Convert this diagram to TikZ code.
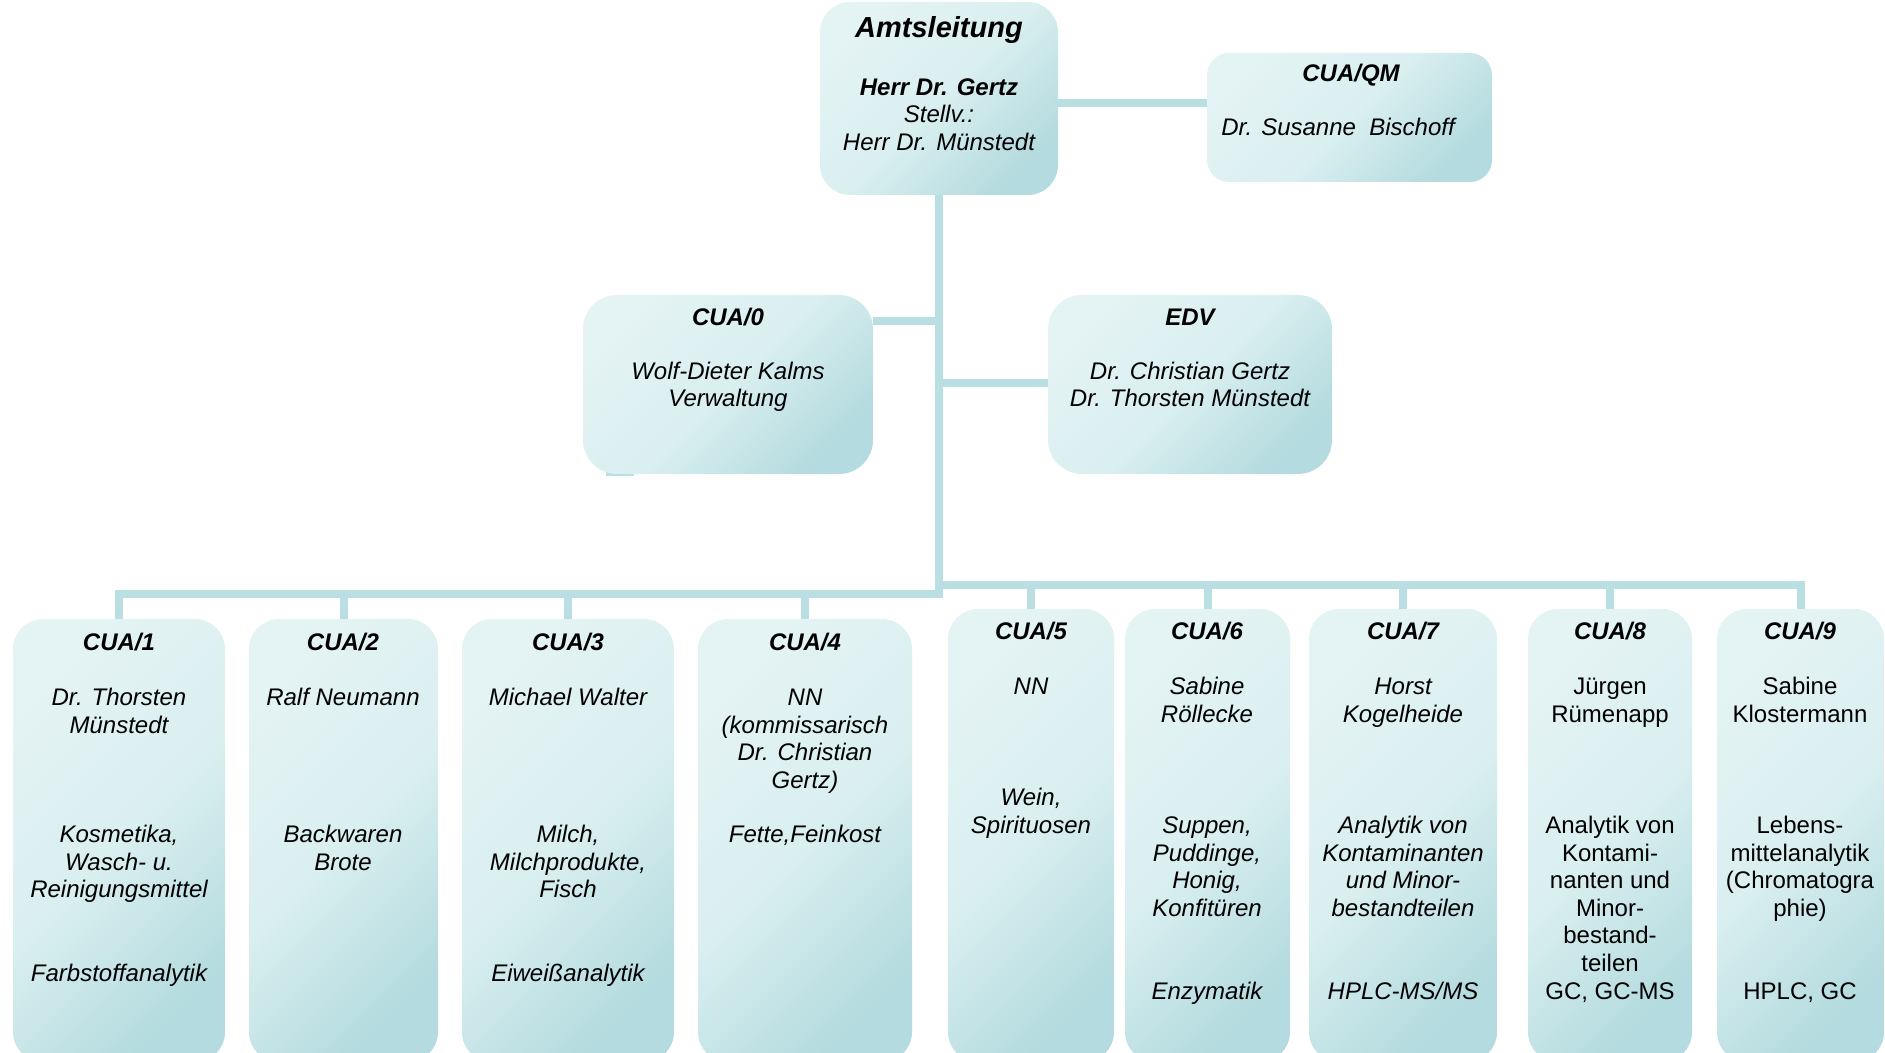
\documentclass[tikz,border=0pt]{standalone}
\usepackage{fontspec}
\setmainfont{Liberation Sans}
\usetikzlibrary{fit,backgrounds}
\definecolor{boxlight}{HTML}{E4F3F4}
\definecolor{boxmid}{HTML}{DAEFF0}
\definecolor{boxdark}{HTML}{B4DBDF}
\definecolor{linkcol}{HTML}{BADFE2}
% strut that fixes the first baseline 11pt below the top of a label
\newcommand\firstline{\rule{0pt}{11pt}}
\begin{document}
\begin{tikzpicture}[x=0.5pt, y=-0.5pt,
  unit/.style={top color=boxlight, bottom color=boxdark, middle color=boxmid,
    shading angle=45, inner sep=0pt, outer sep=0pt, rounded corners=15pt},
  link/.style={draw=linkcol, line width=4pt},
  txt/.style={inner sep=0pt, anchor=north, align=center,
    font=\itshape\fontsize{12pt}{13.8pt}\selectfont},
  txtup/.style={txt, font=\upshape\fontsize{12pt}{13.8pt}\selectfont},
  head/.style={txt, font=\bfseries\itshape\fontsize{12pt}{13.8pt}\selectfont},
]
\useasboundingbox (0,0) rectangle (1885,1053);

% ---- boxes ----
\node[unit, fit={(820,2) (1058,195)}] (amt) {};
\node[unit, rounded corners=11pt, fit={(1207,53) (1492,182)}] (qm) {};
\node[unit, rounded corners=17pt, fit={(583,295) (873,474)}] (c0) {};
\node[unit, rounded corners=17pt, fit={(1048,295) (1332,474)}] (edv) {};
\node[unit, fit={(13,619) (225,1062)}] (c1) {};
\node[unit, fit={(249,619) (438,1062)}] (c2) {};
\node[unit, fit={(462,619) (674,1062)}] (c3) {};
\node[unit, fit={(698,619) (912,1062)}] (c4) {};
\node[unit, fit={(948,609) (1114,1062)}] (c5) {};
\node[unit, fit={(1125,609) (1290,1062)}] (c6) {};
\node[unit, fit={(1309,609) (1497,1062)}] (c7) {};
\node[unit, fit={(1528,609) (1692,1062)}] (c8) {};
\node[unit, fit={(1717,609) (1884,1062)}] (c9) {};

% ---- connectors ----
\coordinate (yqm) at (0,103);
\coordinate (t0) at (939,321);
\coordinate (t1) at (939,383);
\coordinate (trunkfoot) at (939,598);
\coordinate (jl) at (943,594);
\coordinate (jr) at (935,585);
\begin{pgfonlayer}{background}
  \draw[link] (amt.east |- yqm) -- (qm.west |- yqm);
  \draw[link] (amt.south) -- (trunkfoot);
  \draw[link] (c0.east |- t0) -- (t0);
  \draw[link] (t1) -- (t1 -| edv.west);
  \draw[link] (c1.north) -- (c1.north |- jl) -- (jl);
  \draw[link] (jr) -- (jr -| c9.north) -- (c9.north);
  \foreach \n in {c2,c3,c4} \draw[link] (\n.north) -- (\n.north |- jl);
  \foreach \n in {c5,c6,c7,c8} \draw[link] (\n.north) -- (\n.north |- jr);
  \draw[draw=linkcol, line width=2pt] (606,474) -- (634,474);
\end{pgfonlayer}

% ---- Amtsleitung and staff units ----
\node[anchor=base, inner sep=0pt, font=\bfseries\itshape\fontsize{14.5pt}{16pt}\selectfont] (amt-title) at (939,38) {Amtsleitung};
\node[txt] (amt-names) at (939,73) {\firstline{\bfseries Herr Dr. Gertz}\\Stellv.:\\Herr Dr. Münstedt};

\node[head] (qm-title) at (1351,59) {\firstline CUA/QM};
\node[txt] (qm-name) at (1338,113) {\firstline Dr. Susanne~~Bischoff};

\node[head] (c0-title) at (728,303) {\firstline CUA/0};
\node[txt] (c0-name) at (728,357) {\firstline Wolf-Dieter Kalms\\Verwaltung};

\node[head] (edv-title) at (1190,303) {\firstline EDV};
\node[txt] (edv-name) at (1190,357) {\firstline Dr. Christian Gertz\\Dr. Thorsten Münstedt};

% ---- departments CUA/1 to CUA/4 ----
\node[head] (c1-title) at (119,628) {\firstline CUA/1};
\node[txt] (c1-name) at (119,683) {\firstline Dr. Thorsten\\Münstedt};
\node[txt] (c1-area) at (119,820) {\firstline Kosmetika,\\Wasch- u.\\Reinigungsmittel};
\node[txt] (c1-extra) at (119,959) {\firstline Farbstoffanalytik};

\node[head] (c2-title) at (343,628) {\firstline CUA/2};
\node[txt] (c2-name) at (343,683) {\firstline Ralf Neumann};
\node[txt] (c2-area) at (343,820) {\firstline Backwaren\\Brote};

\node[head] (c3-title) at (568,628) {\firstline CUA/3};
\node[txt] (c3-name) at (568,683) {\firstline Michael Walter};
\node[txt] (c3-area) at (568,820) {\firstline Milch,\\Milchprodukte,\\Fisch};
\node[txt] (c3-extra) at (568,959) {\firstline Eiweißanalytik};

\node[head] (c4-title) at (805,628) {\firstline CUA/4};
\node[txt] (c4-name) at (805,683) {\firstline NN\\(kommissarisch\\Dr. Christian\\Gertz)};
\node[txt] (c4-area) at (805,820) {\firstline Fette,Feinkost};

% ---- departments CUA/5 to CUA/9 ----
\node[head] (c5-title) at (1031,617) {\firstline CUA/5};
\node[txt] (c5-name) at (1031,672) {\firstline NN};
\node[txt] (c5-area) at (1031,783) {\firstline Wein,\\Spirituosen};

\node[head] (c6-title) at (1207,617) {\firstline CUA/6};
\node[txt] (c6-name) at (1207,672) {\firstline Sabine\\Röllecke};
\node[txt] (c6-area) at (1207,811) {\firstline Suppen,\\Puddinge,\\Honig,\\Konfitüren};
\node[txt] (c6-extra) at (1207,977) {\firstline Enzymatik};

\node[head] (c7-title) at (1403,617) {\firstline CUA/7};
\node[txt] (c7-name) at (1403,672) {\firstline Horst\\Kogelheide};
\node[txt] (c7-area) at (1403,811) {\firstline Analytik von\\Kontaminanten\\und Minor-\\bestandteilen};
\node[txt] (c7-extra) at (1403,977) {\firstline HPLC-MS/MS};

\node[head] (c8-title) at (1610,617) {\firstline CUA/8};
\node[txtup] (c8-name) at (1610,672) {\firstline Jürgen\\Rümenapp};
\node[txtup] (c8-area) at (1610,811) {\firstline Analytik von\\Kontami-\\nanten und\\Minor-\\bestand-\\teilen\\GC, GC-MS};

\node[head] (c9-title) at (1800,617) {\firstline CUA/9};
\node[txtup] (c9-name) at (1800,672) {\firstline Sabine\\Klostermann};
\node[txtup] (c9-area) at (1800,811) {\firstline Lebens-\\mittelanalytik\\(Chromatogra\\phie)};
\node[txtup] (c9-extra) at (1800,977) {\firstline HPLC, GC};
\end{tikzpicture}
\end{document}
